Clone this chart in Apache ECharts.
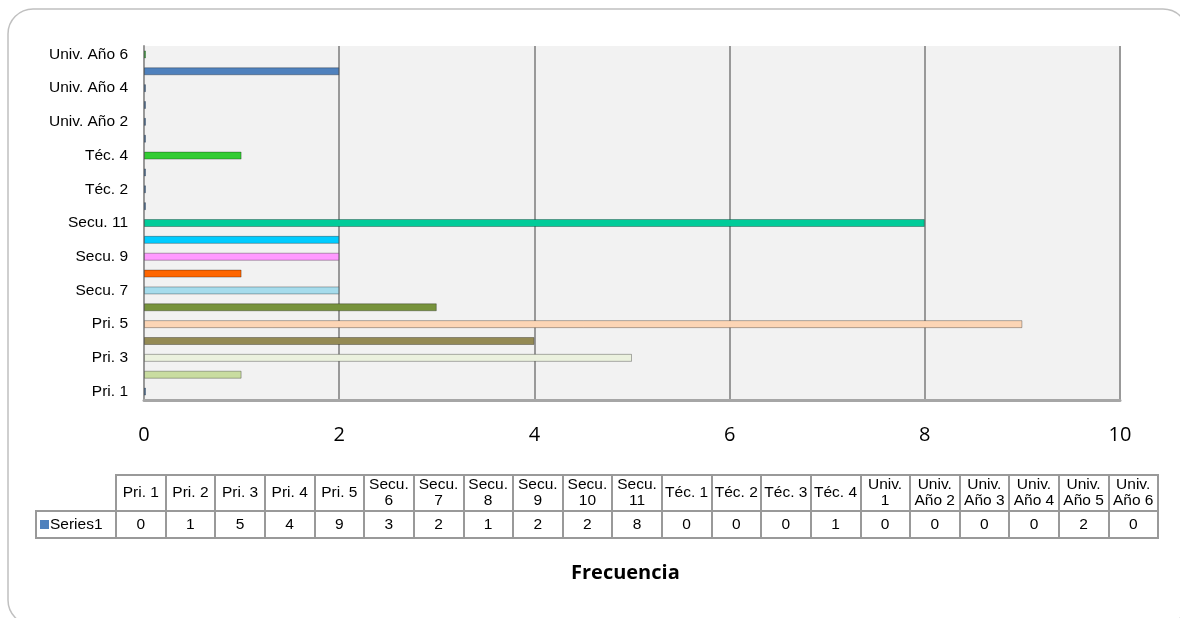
<!DOCTYPE html>
<html>
<head>
<meta charset="utf-8">
<script src="https://cdn.jsdelivr.net/npm/echarts@6/dist/echarts.min.js"></script>
<style>
  html, body { margin: 0; padding: 0; background: #fff; }
  #chart { width: 1180px; height: 618px; }
</style>
</head>
<body>
<div id="chart"></div>
<script>
// categories, bottom to top on the bar chart / left to right in the table
var categories = ["Pri. 1", "Pri. 2", "Pri. 3", "Pri. 4", "Pri. 5",
  "Secu. 6", "Secu. 7", "Secu. 8", "Secu. 9", "Secu. 10", "Secu. 11",
  "Téc. 1", "Téc. 2", "Téc. 3", "Téc. 4",
  "Univ. 1", "Univ. Año 2", "Univ. Año 3", "Univ. Año 4", "Univ. Año 5", "Univ. Año 6"];
var values = [0, 1, 5, 4, 9, 3, 2, 1, 2, 2, 8, 0, 0, 0, 1, 0, 0, 0, 0, 2, 0];
var seriesName = "Series1";
var xTicks = [0, 2, 4, 6, 8, 10];

// colours per point (excel "vary colours by point")
var barColors = ["#4f81bd", "#c9dca0", "#ebf1de", "#948a54", "#fcd5b5", "#77933c",
  "#a6dcec", "#ff6600", "#ff99ff", "#00ccff", "#00cc99",
  "#4f81bd", "#4f81bd", "#4f81bd", "#33cc33",
  "#4f81bd", "#4f81bd", "#4f81bd", "#4f81bd", "#4f81bd", "#33cc33"];

var lineGray = "#999999";
var arial = "Liberation Sans, Arial, sans-serif";

var myChart = echarts.init(document.getElementById("chart"));

var barData = values.map(function (v, i) {
  return { value: v, itemStyle: { color: barColors[i] } };
});

var option = {
  animation: false,
  title: {
    text: "Frecuencia",
    left: 566,
    top: 558,
    textStyle: { fontFamily: "Open Sans", fontWeight: "bold", fontSize: 20, color: "#000" }
  },
  graphic: [
    {
      type: "rect",
      shape: { x: 8, y: 9, width: 1180, height: 616, r: 25 },
      style: { fill: "none", stroke: "#c0c0c0", lineWidth: 1.5 },
      silent: true
    }
  ],
  grid: [
    { // bar chart
      left: 144, top: 46, width: 976, height: 354,
      show: true, backgroundColor: "#f2f2f2", borderWidth: 0
    },
    { // table header row
      left: 116, right: 22, top: 475, height: 36,
      show: true, borderColor: lineGray, borderWidth: 2
    },
    { // table value row
      left: 116, right: 22, top: 511, height: 27,
      show: true, borderColor: lineGray, borderWidth: 2
    }
  ],
  xAxis: [
    {
      gridIndex: 0,
      type: "value",
      min: xTicks[0],
      max: xTicks[xTicks.length - 1],
      interval: 2,
      axisLine: { show: true, lineStyle: { color: "#a6a6a6", width: 3 } },
      axisTick: { show: false },
      splitLine: { show: true, lineStyle: { color: lineGray, width: 2 } },
      axisLabel: { color: "#000", fontSize: 20, fontFamily: "Open Sans", margin: 25 }
    },
    {
      gridIndex: 1,
      type: "category",
      position: "top",
      data: categories,
      axisLine: { show: false },
      axisTick: { show: false },
      splitLine: { show: true, interval: 0, lineStyle: { color: lineGray, width: 2 } },
      axisLabel: {
        inside: true,
        interval: 0,
        margin: 18,
        verticalAlign: "middle",
        lineHeight: 16,
        color: "#000",
        fontSize: 15.5,
        fontFamily: arial,
        formatter: function (v) {
          if (v.indexOf("Secu.") === 0 || v.indexOf("Univ.") === 0) {
            return v.replace(" ", "\n");
          }
          return v;
        }
      }
    },
    {
      gridIndex: 2,
      type: "category",
      position: "bottom",
      data: categories,
      axisLine: { show: false },
      axisTick: { show: false },
      splitLine: { show: true, interval: 0, lineStyle: { color: lineGray, width: 2 } },
      axisLabel: {
        inside: true,
        interval: 0,
        margin: 13,
        verticalAlign: "middle",
        color: "#000",
        fontSize: 15.5,
        fontFamily: arial,
        formatter: function (v, i) {
          return String(values[i]);
        }
      }
    }
  ],
  yAxis: [
    {
      gridIndex: 0,
      type: "category",
      data: categories,
      axisLine: { show: true, lineStyle: { color: lineGray, width: 2 } },
      axisTick: { show: false },
      axisLabel: { interval: 1, color: "#000", fontSize: 15.5, fontFamily: arial, margin: 16 }
    },
    {
      gridIndex: 1,
      type: "value",
      show: false
    },
    {
      gridIndex: 2,
      type: "category",
      data: [seriesName],
      axisLine: { show: false },
      axisTick: { show: false },
      axisLabel: {
        align: "left",
        margin: 80,
        width: 74,
        lineHeight: 15,
        padding: [6, 2, 6, 4],
        borderColor: lineGray,
        borderWidth: 2,
        verticalAlign: "middle",
        formatter: "{sq|}{t|" + seriesName + "}",
        rich: {
          sq: { width: 9, height: 9, backgroundColor: "#4f81bd" },
          t: { color: "#000", fontSize: 15.5, fontFamily: arial, padding: [0, 0, 0, 1] }
        }
      }
    }
  ],
  series: [
    {
      name: seriesName,
      type: "bar",
      xAxisIndex: 0,
      yAxisIndex: 0,
      barWidth: 8,
      barMinHeight: 2,
      itemStyle: { borderColor: "rgba(0,0,0,0.3)", borderWidth: 1 },
      data: barData
    }
  ]
};

myChart.setOption(option);
</script>
</body>
</html>
